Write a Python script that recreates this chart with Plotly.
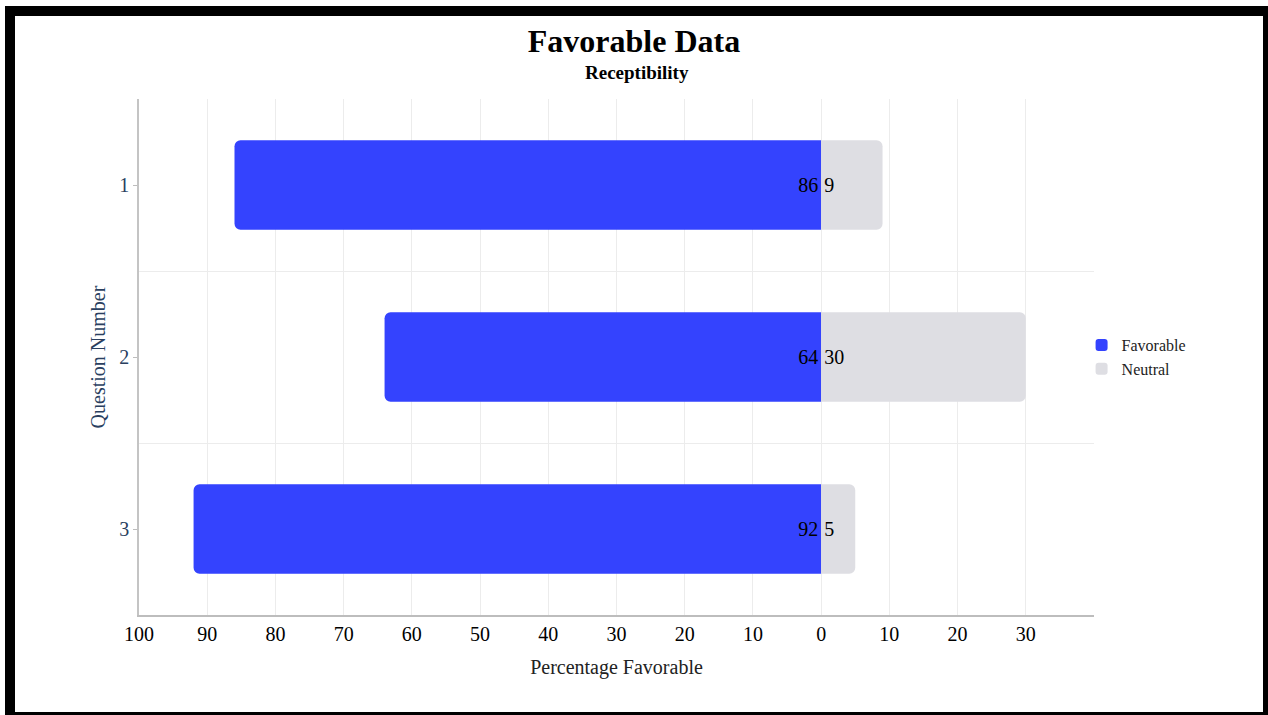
import plotly.graph_objects as go

questions = [1, 2, 3]
favorable = [86, 64, 92]
neutral = [9, 30, 5]
tick_values = [-100, -90, -80, -70, -60, -50, -40, -30, -20, -10, 0, 10, 20, 30]
tick_labels = [str(abs(v)) for v in tick_values]

W, H = 1268, 715
ML, MR, MT, MB = 139, 174, 99, 100
PW, PH = W - ML - MR, H - MT - MB

FONT = "Liberation Serif, Times New Roman, serif"
BLUE = "#3443fe"
GREY = "#dedee3"

fig = go.Figure()
fig.add_trace(go.Bar(
    y=questions, x=[-v for v in favorable], orientation="h", name="Favorable",
    marker=dict(color=BLUE, line=dict(width=0)),
    text=[str(v) for v in favorable], textposition="inside", insidetextanchor="start",
    textfont=dict(family=FONT, size=20, color="black"), constraintext="none",
    width=0.52,
))
fig.add_trace(go.Bar(
    y=questions, x=neutral, orientation="h", name="Neutral",
    marker=dict(color=GREY, line=dict(width=0)),
    text=[str(v) for v in neutral], textposition="inside", insidetextanchor="start",
    textfont=dict(family=FONT, size=20, color="black"), constraintext="none",
    width=0.52,
))


def px_to_paper_x(px):
    return (px - ML) / PW


def px_to_paper_y(py):
    return (H - MB - py) / PH


fig.add_shape(type="rect", xref="paper", yref="paper",
              x0=px_to_paper_x(10), x1=px_to_paper_x(1268),
              y0=px_to_paper_y(717), y1=px_to_paper_y(11),
              line=dict(color="black", width=10), fillcolor="rgba(0,0,0,0)", layer="above")

fig.add_annotation(text="<b>Receptibility</b>", xref="paper", yref="paper",
                   x=px_to_paper_x(637), y=px_to_paper_y(73), xanchor="center", yanchor="middle",
                   showarrow=False, font=dict(family=FONT, size=19, color="black"))

fig.update_layout(
    width=W, height=H,
    margin=dict(l=ML, r=MR, t=MT, b=MB),
    barmode="relative",
    barcornerradius=6,
    plot_bgcolor="white", paper_bgcolor="white",
    font=dict(family=FONT, size=20, color="black"),
    title=dict(
        text="<b>Favorable Data</b>",
        font=dict(family=FONT, size=32, color="black"),
        x=0.5, xanchor="center", xref="container",
        y=1 - 41 / H, yanchor="middle", yref="container",
    ),
    legend=dict(x=0.987, xanchor="left", y=0.5, yanchor="middle",
                font=dict(family=FONT, size=16, color="#222"), tracegroupgap=0),
    showlegend=True,
)
fig.update_xaxes(
    range=[-100, 40], tickmode="array", tickvals=tick_values, ticktext=tick_labels,
    showgrid=True, gridcolor="#ececec", gridwidth=1, zeroline=False,
    showline=True, linecolor="#bdbdbd", linewidth=1.5, ticks="",
    tickfont=dict(family=FONT, size=20, color="black"),
    title=dict(text="Percentage Favorable", font=dict(family=FONT, size=20, color="#222"), standoff=16),
)
fig.update_yaxes(
    range=[3.5, 0.5], tickmode="array", tickvals=questions, ticktext=[str(q) for q in questions],
    showgrid=False, zeroline=False,
    showline=True, linecolor="#c4c4c4", linewidth=1.5,
    ticks="outside", ticklen=4, tickcolor="#bdbdbd",
    tickfont=dict(family=FONT, size=20, color="#2a3f5f"),
    minor=dict(tickmode="array", tickvals=[1.5, 2.5], showgrid=True, gridcolor="#ececec", ticks=""),
    title=dict(text="Question Number", font=dict(family=FONT, size=20, color="#2a3f5f"), standoff=8),
)

fig.write_html("out.html")
